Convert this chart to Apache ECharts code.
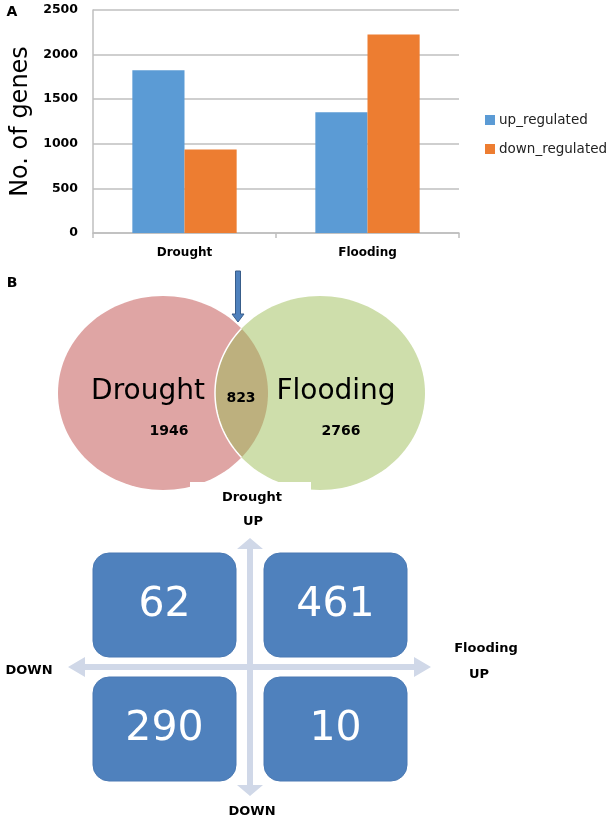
<!DOCTYPE html>
<html>
<head>
<meta charset="utf-8">
<script src="https://cdn.jsdelivr.net/npm/echarts@6/dist/echarts.min.js"></script>
<style>
  html, body { margin: 0; padding: 0; background: #fff; }
  #main { width: 610px; height: 821px; }
</style>
</head>
<body>
<div id="main"></div>
<script>
// panel A data
const categories = ['Drought', 'Flooding'];
const upRegulated = [1825, 1355];
const downRegulated = [935, 2225];
const seriesNames = ['up_regulated', 'down_regulated'];

// panel B data
const vennSets = ['Drought', 'Flooding'];
const vennCounts = [1946, 823, 2766]; // only drought, shared, only flooding
const quadrantCounts = [62, 461, 290, 10]; // TL, TR, BL, BR

const FONT = 'DejaVu Sans';
const myChart = echarts.init(document.getElementById('main'));

// ellipse outline as polygon points
function ellipsePts(cx, cy, rx, ry, t0, t1, n) {
    const pts = [];
    for (let i = 0; i <= n; i++) {
        const t = t0 + (t1 - t0) * i / n;
        pts.push([cx + rx * Math.cos(t), cy + ry * Math.sin(t)]);
    }
    return pts;
}

const L = {cx: 163, cy: 393, rx: 105, ry: 97};
const R = {cx: 320, cy: 393, rx: 105, ry: 97};
const th = Math.acos(((R.cx - L.cx) / 2) / L.rx);
const lensPts = ellipsePts(L.cx, L.cy, L.rx, L.ry, -th, th, 40)
    .concat(ellipsePts(R.cx, R.cy, R.rx, R.ry, Math.PI - th, Math.PI + th, 40));
const lensEdge = ellipsePts(R.cx, R.cy, R.rx, R.ry, Math.PI - th, Math.PI + th, 40);

function label(text, x, y, size, weight, color) {
    return {
        type: 'text', x: x, y: y,
        style: {
            text: text, fill: color || '#000',
            fontSize: size, fontWeight: weight || 'bold', fontFamily: FONT,
            textAlign: 'center', textVerticalAlign: 'middle',
            align: 'center', verticalAlign: 'middle'
        }
    };
}

const arrowColor = '#d0d8e8';
const boxes = [[93, 553], [264, 553], [93, 677], [264, 677]];

const graphics = [
    label('A', 12, 12, 14),
    label('B', 12, 283, 14),
    // venn
    {type: 'polygon', shape: {points: ellipsePts(L.cx, L.cy, L.rx, L.ry, 0, Math.PI * 2, 120)}, style: {fill: '#dfa5a4'}},
    {type: 'polygon', shape: {points: ellipsePts(R.cx, R.cy, R.rx, R.ry, 0, Math.PI * 2, 120)}, style: {fill: '#cedeab'}},
    {type: 'polygon', shape: {points: lensPts}, style: {fill: '#bdb07e'}},
    {type: 'polyline', shape: {points: lensEdge}, style: {stroke: '#fff', lineWidth: 1.5, fill: null}},
    {type: 'rect', shape: {x: 190, y: 482, width: 121, height: 14}, style: {fill: '#fff'}},
    // blue arrow pointing at overlap
    {type: 'polygon', shape: {points: [[235.5, 271], [240.5, 271], [240.5, 314], [244, 314], [238, 322], [232, 314], [235.5, 314]]},
        style: {fill: '#4f81bd', stroke: '#385d8a', lineWidth: 1}},
    label(vennSets[0], 148, 392, 28, 'normal'),
    label(vennSets[1], 336, 392, 28, 'normal'),
    label(String(vennCounts[1]), 241, 398, 14),
    label(String(vennCounts[0]), 169, 431, 14),
    label(String(vennCounts[2]), 341, 431, 14),
    // quadrant cross
    {type: 'polygon', shape: {points: [[250, 538], [263, 549], [253, 549], [253, 785], [263, 785], [250, 796], [237, 785], [247, 785], [247, 549], [237, 549]]},
        style: {fill: arrowColor}},
    {type: 'polygon', shape: {points: [[68, 667], [85, 657], [85, 664], [414, 664], [414, 657], [431, 667], [414, 677], [414, 670], [85, 670], [85, 677]]},
        style: {fill: arrowColor}},
    label('Drought', 252, 498, 13),
    label('UP', 253, 522, 13),
    label('DOWN', 29, 671, 13),
    label('Flooding', 486, 649, 13),
    label('UP', 479, 675, 13),
    label('DOWN', 252, 812, 13)
];

boxes.forEach(function (b, i) {
    graphics.push({
        type: 'rect', shape: {x: b[0], y: b[1], width: 143, height: 104, r: 16},
        style: {fill: '#4f81bd', stroke: '#4a79b3', lineWidth: 1}
    });
    graphics.push(label(String(quadrantCounts[i]), b[0] + 71.5, b[1] + 52, 41, 'normal', '#fff'));
});

option = {
    animation: false,
    textStyle: {fontFamily: FONT},
    grid: {left: 93, right: 151, top: 10, bottom: 588},
    legend: {
        data: seriesNames,
        orient: 'vertical',
        left: 485, top: 113, padding: 0,
        itemWidth: 10, itemHeight: 10, itemGap: 15,
        icon: 'rect',
        textStyle: {fontSize: 13.5, color: '#222', fontFamily: FONT, padding: [0, 0, 0, -1]}
    },
    xAxis: {
        type: 'category',
        data: categories,
        axisLine: {lineStyle: {color: '#bfbfbf', width: 1.5}},
        axisTick: {show: true, length: 5, lineStyle: {color: '#bfbfbf', width: 1.5}},
        axisLabel: {fontSize: 12, fontWeight: 'bold', color: '#000', margin: 14}
    },
    yAxis: {
        type: 'value',
        min: 0, max: 2500, interval: 500,
        name: 'No. of genes',
        nameLocation: 'middle',
        nameGap: 56,
        nameTextStyle: {fontSize: 24, color: '#000', fontFamily: FONT},
        axisLine: {show: true, lineStyle: {color: '#bfbfbf', width: 1.5}},
        axisTick: {show: false},
        axisLabel: {fontSize: 12.5, fontWeight: 'bold', color: '#000', margin: 15, formatter: function (v) { return String(v); }},
        splitLine: {lineStyle: {color: '#bfbfbf', width: 1.5}}
    },
    series: [
        {name: seriesNames[0], type: 'bar', data: upRegulated, barGap: '0%', barCategoryGap: '43%', itemStyle: {color: '#5b9bd5'}},
        {name: seriesNames[1], type: 'bar', data: downRegulated, itemStyle: {color: '#ed7d31'}}
    ],
    graphic: {elements: graphics}
};
myChart.setOption(option);
</script>
</body>
</html>
